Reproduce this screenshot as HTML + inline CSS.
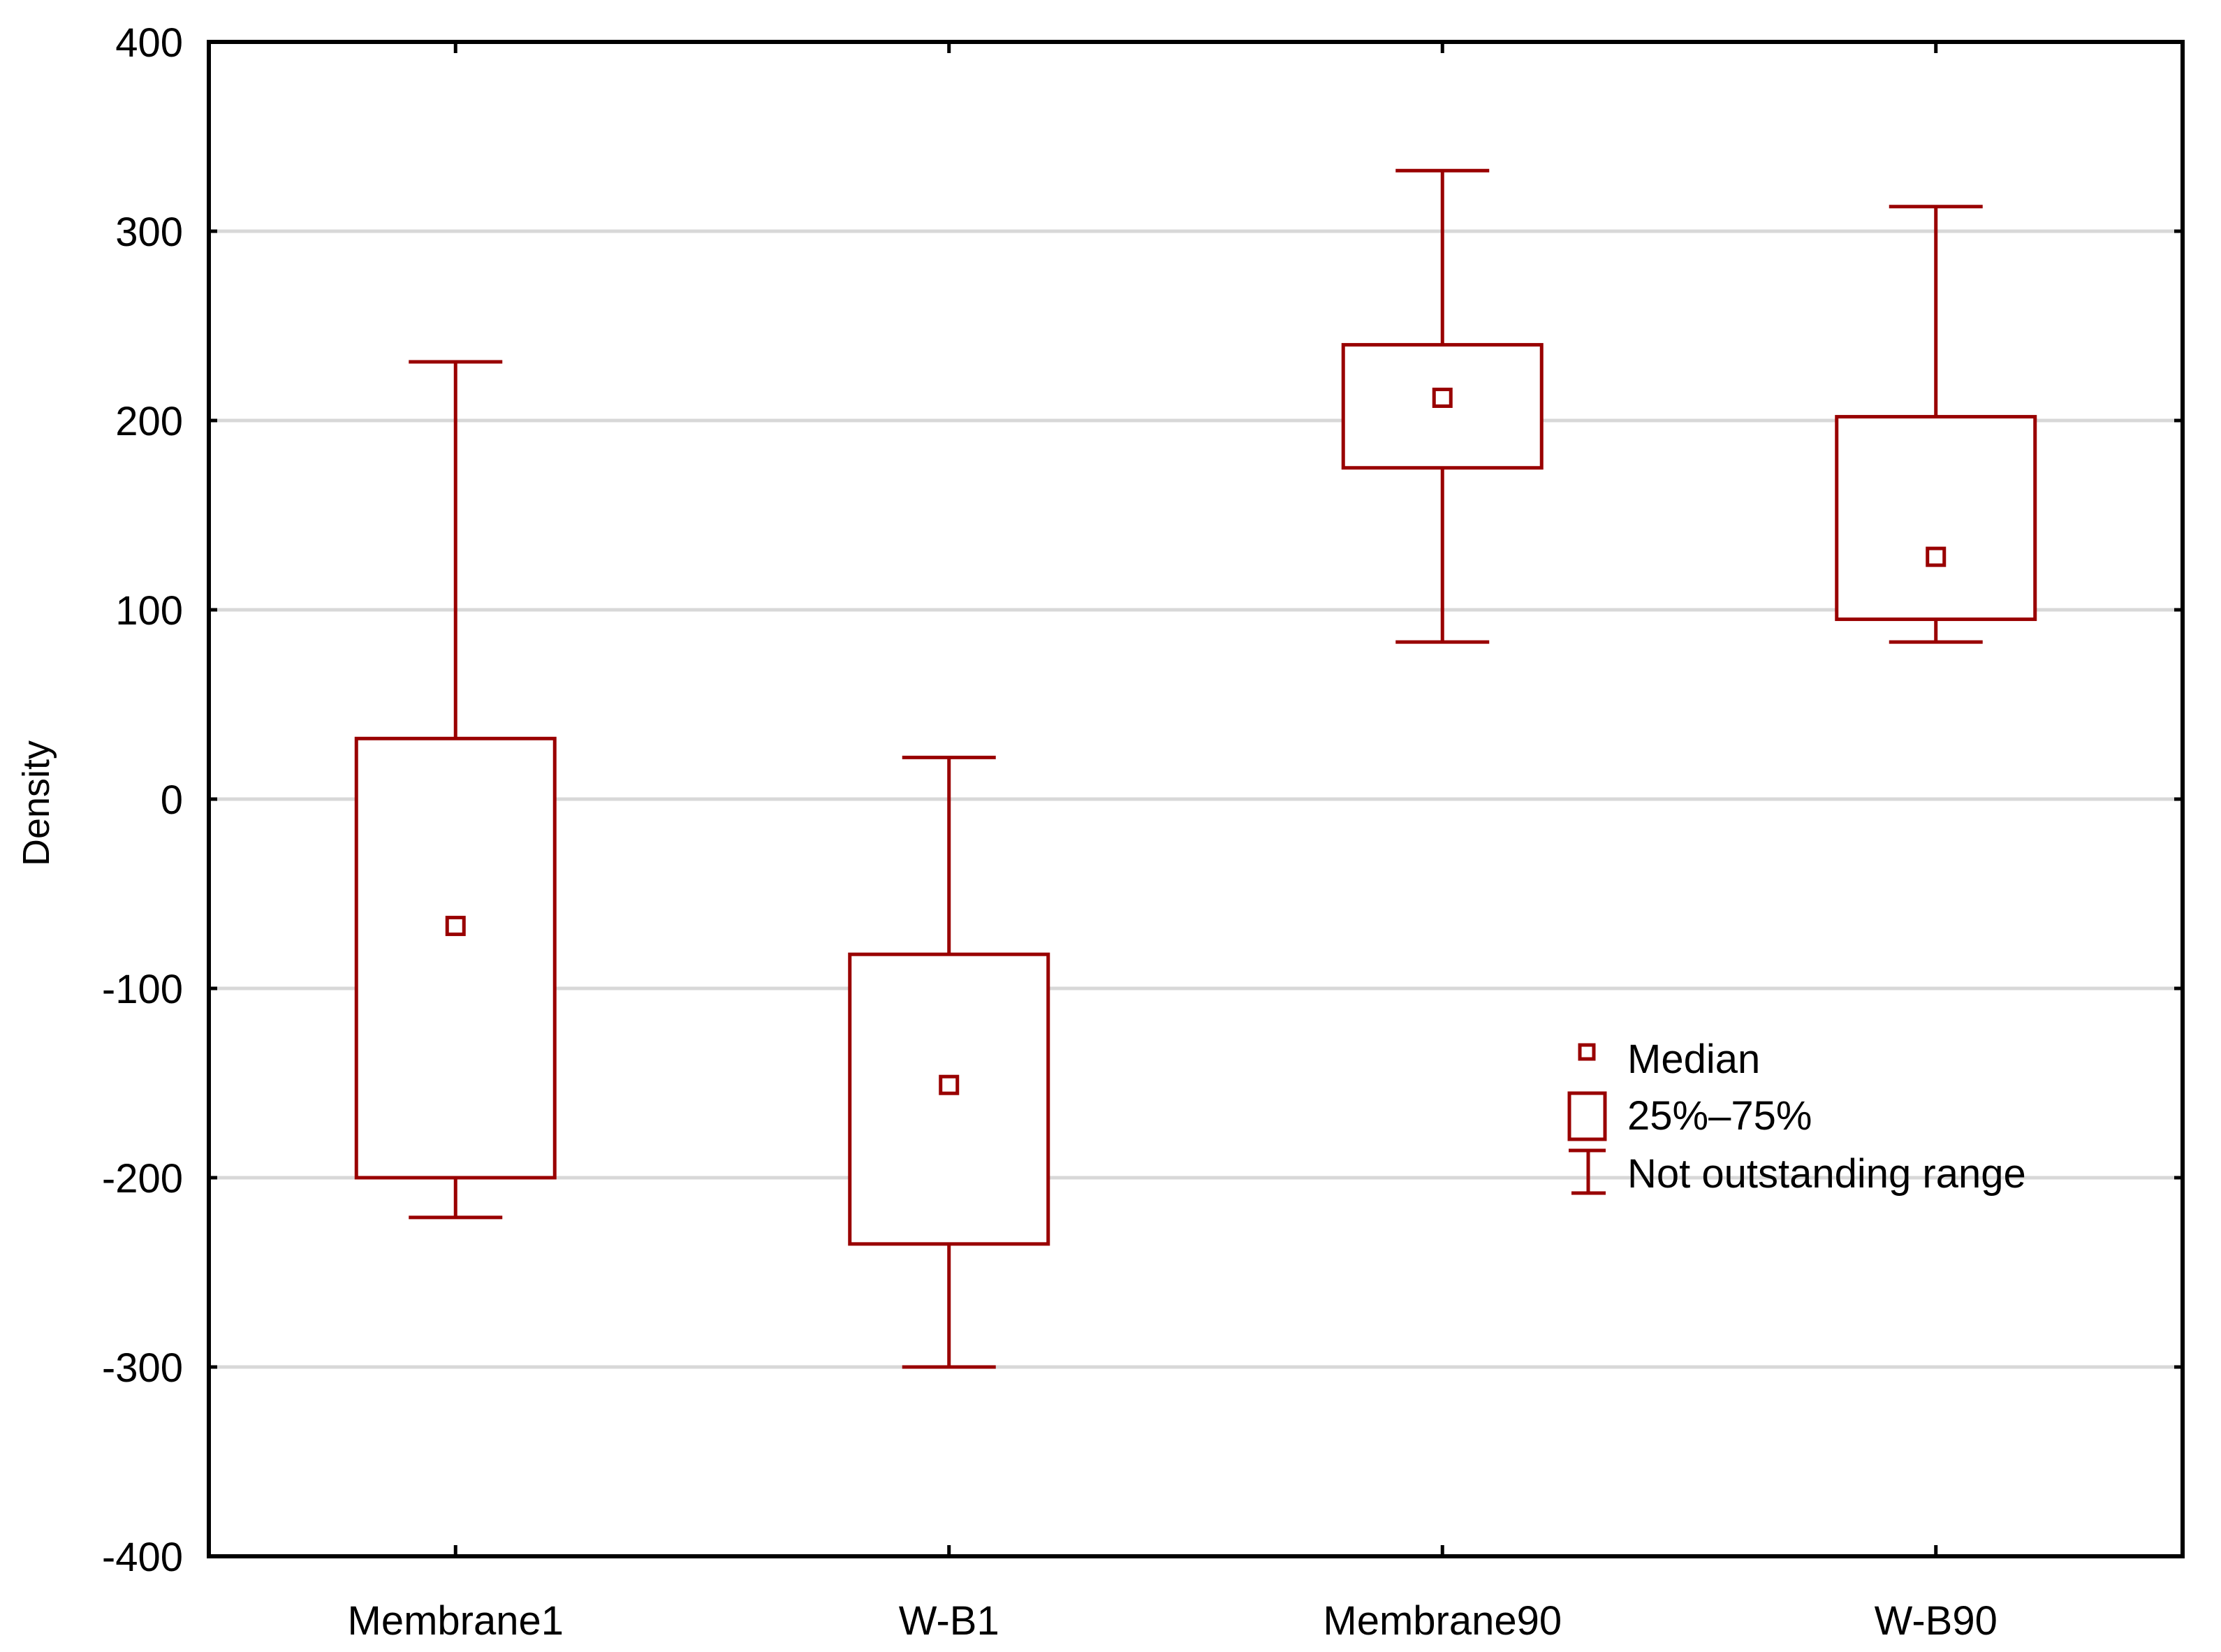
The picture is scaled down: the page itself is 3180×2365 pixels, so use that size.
<!DOCTYPE html>
<html><head><meta charset="utf-8"><style>
html,body{margin:0;padding:0;background:#fff;}
svg{display:block;font-family:"Liberation Sans",Arial,sans-serif;}
</style></head><body>
<svg id="chart" width="3180" height="2365" viewBox="0 0 3180 2365" xmlns="http://www.w3.org/2000/svg">
<rect x="0" y="0" width="3180" height="2365" fill="#fff"/>
<g id="grid"></g>
<g id="yticks"></g>
<g id="xticks"></g>
<g id="boxes"></g>
<rect x="299" y="60" width="2826" height="2168" fill="none" stroke="#000" stroke-width="6"/>
<text transform="translate(70,1150) rotate(-90)" text-anchor="middle" font-size="54" fill="#000">Density</text>
<g>
  <rect x="2262" y="1496" width="20" height="20" fill="none" stroke="#990000" stroke-width="5"/>
  <text x="2330" y="1536" font-size="58" fill="#000">Median</text>
  <rect x="2247" y="1565" width="51" height="66" fill="none" stroke="#990000" stroke-width="5"/>
  <text x="2330" y="1617" font-size="58" fill="#000">25%–75%</text>
  <g stroke="#990000" stroke-width="5">
    <line x1="2246" y1="1647" x2="2299" y2="1647"/>
    <line x1="2274" y1="1647" x2="2274" y2="1708"/>
    <line x1="2250" y1="1708" x2="2299" y2="1708"/>
  </g>
  <text x="2330" y="1700" font-size="58" fill="#000">Not outstanding range</text>
</g>
</svg>
<script>
const categories = ["Membrane1", "W-B1", "Membrane90", "W-B90"];
const maxVals = [231, 22, 332, 313];
const q3Vals = [32, -82, 240, 202];
const medianVals = [-67, -151, 212, 128];
const q1Vals = [-200, -235, 175, 95];
const minVals = [-221, -300, 83, 83];
const yTickVals = [400, 300, 200, 100, 0, -100, -200, -300, -400];
const yTickLabels = ["400", "300", "200", "100", "0", "-100", "-200", "-300", "-400"];

const NS = "http://www.w3.org/2000/svg";
const L = 299, R = 3125, T = 60, B = 2228;
const yMin = -400, yMax = 400;
function yScale(v){ return B - (v - yMin) / (yMax - yMin) * (B - T); }
function xScale(i){ return L + (i + 0.5) * (R - L) / categories.length; }
function mk(tag, attrs, parent){
  const e = document.createElementNS(NS, tag);
  for (const k in attrs) e.setAttribute(k, attrs[k]);
  parent.appendChild(e);
  return e;
}
const grid = document.getElementById('grid');
const yt = document.getElementById('yticks');
const xt = document.getElementById('xticks');
const boxes = document.getElementById('boxes');

yTickVals.forEach((v, i) => {
  const y = yScale(v);
  if (v !== yMin && v !== yMax) {
    const g = mk('line', {x1: L, x2: R, y1: y, y2: y, stroke: '#d8d8d8', 'stroke-width': 5}, grid);
    
    
    const t1 = mk('line', {x1: L, x2: L + 12, y1: y, y2: y, stroke: '#000', 'stroke-width': 5}, yt);
    
    
    const t2 = mk('line', {x1: R - 12, x2: R, y1: y, y2: y, stroke: '#000', 'stroke-width': 5}, yt);
    
    
  }
  const lab = mk('text', {x: 262, y: y + 21, 'text-anchor': 'end', 'font-size': 58, fill: '#000'}, yt);
  lab.textContent = yTickLabels[i];
  
  
});

categories.forEach((c, i) => {
  const x = xScale(i);
  const tb = mk('line', {x1: x, x2: x, y1: B - 16, y2: B, stroke: '#000', 'stroke-width': 5}, xt);
  
  
  const tt = mk('line', {x1: x, x2: x, y1: T, y2: T + 16, stroke: '#000', 'stroke-width': 5}, xt);
  
  
  const lab = mk('text', {x: x, y: 2340, 'text-anchor': 'middle', 'font-size': 58, fill: '#000'}, xt);
  lab.textContent = c;
  
  

  const g = mk('g', {stroke: '#990000', 'stroke-width': 5, fill: 'none'}, boxes);
  
  
  const hw = 142, cw = 67;
  const w1 = mk('line', {x1: x, x2: x, y1: yScale(maxVals[i]), y2: yScale(q3Vals[i])}, g);
  
  
  const w2 = mk('line', {x1: x, x2: x, y1: yScale(q1Vals[i]), y2: yScale(minVals[i])}, g);
  
  
  const c1 = mk('line', {x1: x - cw, x2: x + cw, y1: yScale(maxVals[i]), y2: yScale(maxVals[i])}, g);
  
  
  const c2 = mk('line', {x1: x - cw, x2: x + cw, y1: yScale(minVals[i]), y2: yScale(minVals[i])}, g);
  
  
  const bx = mk('rect', {x: x - hw, y: yScale(q3Vals[i]), width: 2 * hw, height: yScale(q1Vals[i]) - yScale(q3Vals[i]), fill: '#fff'}, g);
  
  
  const m = mk('rect', {x: x - 12, y: yScale(medianVals[i]) - 12, width: 24, height: 24}, g);
  
  
});
</script>
</body></html>
